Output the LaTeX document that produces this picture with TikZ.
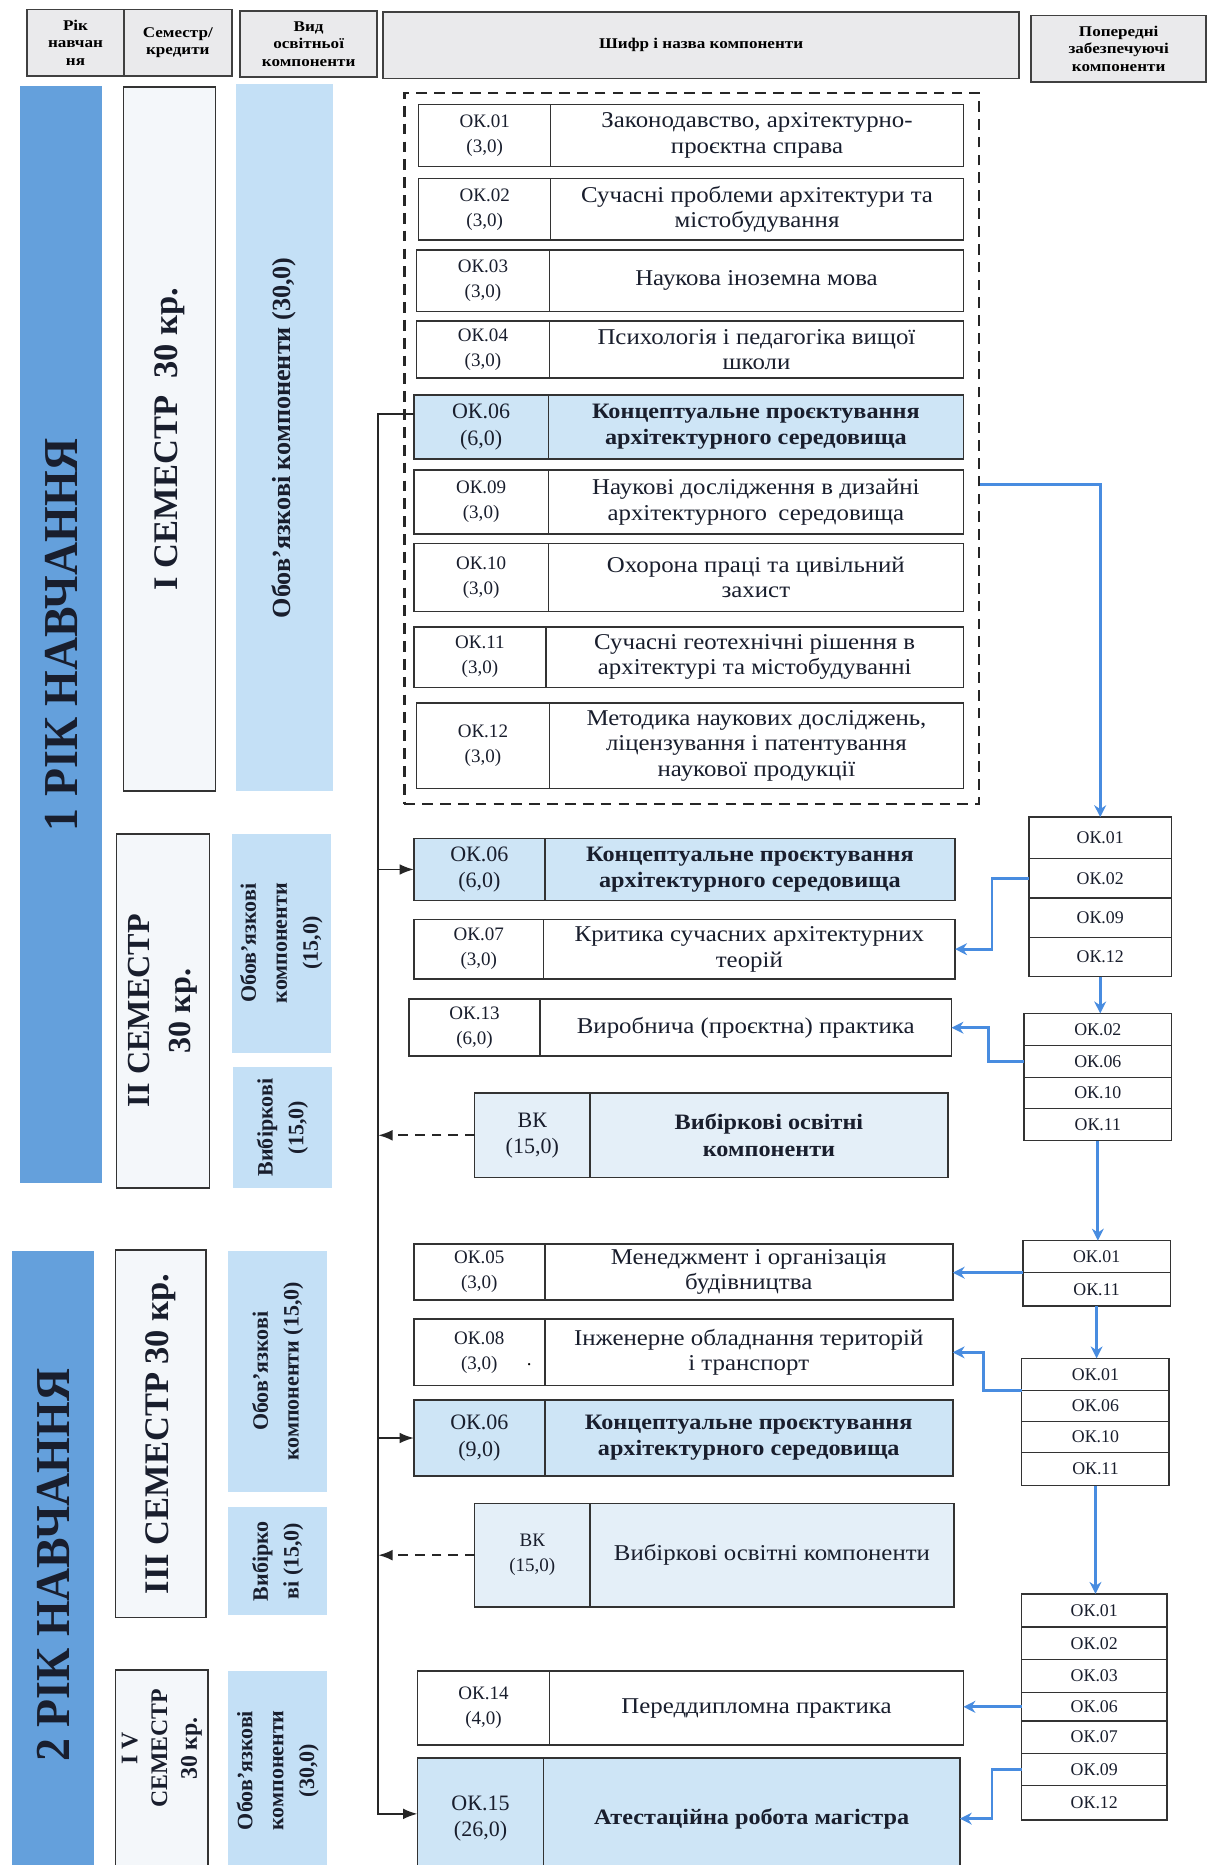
\documentclass[tikz,border=0pt]{standalone}
\usepackage{fontspec}
\setmainfont{Liberation Serif}
\newfontfamily\tfont[FakeStretch=1.1]{Liberation Serif}
\newfontfamily\hfont[FakeStretch=1.15]{Liberation Serif}
\newfontfamily\cfont[FakeStretch=0.94]{Liberation Serif}
\usetikzlibrary{arrows.meta}
\definecolor{yearblue}{RGB}{100,160,220}
\definecolor{kindblue}{RGB}{196,224,246}
\definecolor{hlblue}{RGB}{206,229,246}
\definecolor{vkblue}{RGB}{228,239,248}
\definecolor{semfill}{RGB}{244,247,250}
\definecolor{hdrgray}{RGB}{234,234,236}
\definecolor{arrblue}{RGB}{72,140,224}
\definecolor{txtdark}{RGB}{25,30,45}
\newcommand\codefont{\fontsize{16}{21}\selectfont}
\newcommand\bigcodefont{\fontsize{18.5}{22}\selectfont}
\newcommand\titlefont{\tfont\fontsize{19}{21.5}\selectfont}
\newcommand\hltitlefont{\tfont\bfseries\fontsize{18.5}{22}\selectfont}
\newcommand\comp[9]{%
  \node[#7code, minimum width={#3-#2}, minimum height={#6-#5}] (#1c) at ({(#2+#3)/2},{(#5+#6)/2}) {#8};
  \node[#7title, minimum width={#4-#3}, minimum height={#6-#5}] (#1) at ({(#3+#4)/2},{(#5+#6)/2}) {#9};}
\newcommand\scell[6]{\node[stk, minimum width={#3-#2}, minimum height={#5-#4}] (#1) at ({(#2+#3)/2},{(#4+#5)/2}) {#6};}
\newcommand\rotbox[7]{\node[#6, rotate=90, minimum width={#5-#4}, minimum height={#3-#2}] (#1) at ({(#2+#3)/2},{(#4+#5)/2}) {#7};}
\tikzset{
  cellbase/.style={draw=black!80, line width=1.3pt, inner sep=0pt, outer sep=0pt, align=center, text=txtdark},
  plaincode/.style={cellbase, fill=white, font=\codefont},
  plaintitle/.style={cellbase, fill=white, font=\titlefont},
  hlcode/.style={cellbase, fill=hlblue, font=\bigcodefont},
  hltitle/.style={cellbase, fill=hlblue, font=\hltitlefont},
  vkcode/.style={cellbase, fill=vkblue, font=\codefont},
  vktitle/.style={cellbase, fill=vkblue, font=\titlefont},
  vkbcode/.style={cellbase, fill=vkblue, font=\bigcodefont},
  vkbtitle/.style={cellbase, fill=vkblue, font=\hltitlefont},
  stk/.style={draw=black!80, line width=1.2pt, fill=white, inner sep=0pt, outer sep=0pt, font=\fontsize{15}{18}\selectfont, text=txtdark},
  hdr/.style={draw=black!75, line width=1.5pt, fill=hdrgray, inner sep=0pt, outer sep=0pt, align=center, font=\hfont\bfseries\fontsize{12.5}{14.5}\selectfont},
  yearbar/.style={fill=yearblue, inner sep=0pt, align=center, text=txtdark, font=\cfont\bfseries\fontsize{41}{44}\selectfont},
  sembox/.style={draw=black!80, line width=1.3pt, fill=semfill, inner sep=0pt, align=center, text=txtdark, font=\bfseries\fontsize{29}{34}\selectfont},
  kindbox/.style={fill=kindblue, inner sep=0pt, align=center, text=txtdark, font=\bfseries\fontsize{18.5}{26}\selectfont},
  dashbox/.style={draw=black!85, line width=2pt, dash pattern=on 9pt off 6pt, inner sep=0pt},
  barrow/.style={draw=arrblue, line width=2.4pt, -{Stealth[length=10pt, width=10pt]}},
  blk/.style={draw=black!85, line width=1.6pt, -{Latex[length=12pt, width=9pt]}},
  dblk/.style={draw=black!85, line width=1.6pt, dash pattern=on 8pt off 6pt, -{Latex[length=12pt, width=9pt]}},
}
\begin{document}
\begin{tikzpicture}[x=1pt,y=-1pt]
\useasboundingbox (0,0) rectangle (1015,1568);
\clip (0,0) rectangle (1015,1568);
\fill[white] (0,0) rectangle (1015,1568);
% header
\node[hdr, minimum width=81, minimum height=56] (h1) at (63.5,36) {Рік\\навчан\\ня};
\node[hdr, minimum width=91, minimum height=56] (h2) at (149.5,36) {Семестр/\\кредити};
\node[hdr, minimum width=115, minimum height=56] (h3) at (259.5,37) {Вид\\освітньої\\компоненти};
\node[hdr, minimum width=535, minimum height=56] (h4) at (589.5,38) {Шифр і назва компоненти};
\node[hdr, minimum width=147, minimum height=56] (h5) at (940.5,41) {Попередні\\забезпечуючі\\компоненти};
% left columns
\rotbox{y1}{17}{86}{72}{995}{yearbar}{1 РІК НАВЧАННЯ}
\rotbox{y2}{10}{79}{1052}{1580}{yearbar}{2 РІК НАВЧАННЯ}
\rotbox{sm1}{104}{181}{73}{665}{sembox}{І СЕМЕСТР\enspace 30 кр.}
\rotbox{sm2}{98}{176}{701}{999}{sembox, font=\bfseries\fontsize{27}{34}\selectfont}{ІІ СЕМЕСТР\\30 кр.}
\rotbox{sm3}{97}{173}{1051}{1360}{sembox}{ІІІ СЕМЕСТР 30 кр.}
\rotbox{sm4}{97}{175}{1404}{1590}{sembox}{}
\node[rotate=90, align=center, text=txtdark, font=\bfseries\fontsize{20}{25}\selectfont] (sm4t) at (136,1470) {І V\\СЕМЕСТР\\30 кр.};
\rotbox{k1}{198}{280}{71}{665}{kindbox, font=\bfseries\fontsize{22}{26}\selectfont}{Обов’язкові компоненти (30,0)}
\rotbox{k2}{195}{278}{701}{885}{kindbox}{Обов’язкові\\компоненти\\(15,0)}
\rotbox{k3}{196}{279}{897}{999}{kindbox}{Вибіркові\\(15,0)}
\rotbox{k4}{192}{275}{1052}{1254}{kindbox}{Обов’язкові\\компоненти (15,0)}
\rotbox{k5}{192}{275}{1267}{1358}{kindbox}{Вибірко\\ві (15,0)}
\rotbox{k6}{192}{275}{1405}{1572}{kindbox}{Обов’язкові\\компоненти\\(30,0)}
% dashed frame
\node[dashbox, minimum width=483, minimum height=598] (dbox) at (581.5,377) {};
% semester I
\comp{a1}{352}{463}{810}{88}{140}{plain}{ОК.01\\(3,0)}{Законодавство, архітектурно-\\проєктна справа}
\comp{a2}{352}{463}{810}{150}{202}{plain}{ОК.02\\(3,0)}{Сучасні проблеми архітектури та\\містобудування}
\comp{a3}{350}{462}{810}{210}{262}{plain}{ОК.03\\(3,0)}{Наукова іноземна мова}
\comp{a4}{350}{462}{810}{270}{318}{plain}{ОК.04\\(3,0)}{Психологія і педагогіка вищої\\школи}
\comp{a5}{348}{461}{810}{332}{386}{hl}{ОК.06\\(6,0)}{Концептуальне проєктування\\архітектурного середовища}
\comp{a6}{348}{461}{810}{395}{449}{plain}{ОК.09\\(3,0)}{Наукові дослідження в дизайні\\архітектурного\enspace середовища}
\comp{a7}{348}{461}{810}{457}{514}{plain}{ОК.10\\(3,0)}{Охорона праці та цивільний\\захист}
\comp{a8}{348}{459}{810}{527}{578}{plain}{ОК.11\\(3,0)}{Сучасні геотехнічні рішення в\\архітектурі та містобудуванні}
\comp{a9}{350}{462}{810}{591}{663}{plain}{ОК.12\\(3,0)}{Методика наукових досліджень,\\ліцензування і патентування\\наукової продукції}
% semester II
\comp{b1}{348}{458}{803}{705}{757}{hl}{ОК.06\\(6,0)}{Концептуальне проєктування\\архітектурного середовища}
\comp{b2}{348}{457}{803}{773}{823}{plain}{ОК.07\\(3,0)}{Критика сучасних архітектурних\\теорій}
\comp{b3}{344}{454}{800}{840}{888}{plain}{ОК.13\\(6,0)}{Виробнича (проєктна) практика}
\comp{b4}{399}{496}{797}{919}{990}{vkb}{ВК\\(15,0)}{Вибіркові освітні\\компоненти}
% semester III
\comp{c1}{348}{458}{801}{1046}{1093}{plain}{ОК.05\\(3,0)}{Менеджмент і організація\\будівництва}
\comp{c2}{348}{458}{801}{1109}{1165}{plain}{ОК.08\\(3,0)}{Інженерне обладнання територій\\і транспорт}
\node[font=\codefont] (dot) at (445,1147) {.};
\comp{c3}{348}{458}{801}{1177}{1241}{hl}{ОК.06\\(9,0)}{Концептуальне проєктування\\архітектурного середовища}
\comp{c4}{399}{496}{802}{1264}{1351}{vk}{ВК\\(15,0)}{Вибіркові освітні компоненти}
% semester IV
\comp{d1}{351}{462}{810}{1405}{1467}{plain}{ОК.14\\(4,0)}{Переддипломна практика}
\comp{d2}{351}{457}{807}{1478}{1580}{hl}{ОК.15\\(26,0)}{Атестаційна робота магістра}
% prerequisite stacks
\scell{s1r1}{865}{985}{687}{722}{ОК.01}
\scell{s1r2}{865}{985}{722}{755}{ОК.02}
\scell{s1r3}{865}{985}{755}{788}{ОК.09}
\scell{s1r4}{865}{985}{788}{821}{ОК.12}
\scell{s2r1}{861}{985}{852}{879}{ОК.02}
\scell{s2r2}{861}{985}{879}{906}{ОК.06}
\scell{s2r3}{861}{985}{906}{932}{ОК.10}
\scell{s2r4}{861}{985}{932}{959}{ОК.11}
\scell{s3r1}{860}{984}{1043}{1070}{ОК.01}
\scell{s3r2}{860}{984}{1070}{1098}{ОК.11}
\scell{s4r1}{859}{983}{1142}{1169}{ОК.01}
\scell{s4r2}{859}{983}{1169}{1195}{ОК.06}
\scell{s4r3}{859}{983}{1195}{1221}{ОК.10}
\scell{s4r4}{859}{983}{1221}{1249}{ОК.11}
\scell{s5r1}{859}{981}{1340}{1368}{ОК.01}
\scell{s5r2}{859}{981}{1368}{1395}{ОК.02}
\scell{s5r3}{859}{981}{1395}{1423}{ОК.03}
\scell{s5r4}{859}{981}{1423}{1447}{ОК.06}
\scell{s5r5}{859}{981}{1447}{1474}{ОК.07}
\scell{s5r6}{859}{981}{1474}{1501}{ОК.09}
\scell{s5r7}{859}{981}{1501}{1530}{ОК.12}
% blue connectors
\draw[barrow] ([yshift=15pt]a6.east -| dbox.east) -| (s1r1.north);
\draw[barrow] (s1r2.west) -- ++(-31,0) |- (b2.east);
\draw[barrow] (s1r4.south) -- (s1r4.south |- s2r1.north);
\draw[barrow] (s2r2.west) -- ++(-30,0) |- (b3.east);
\draw[barrow] (s2r4.south) -- (s2r4.south |- s3r1.north);
\draw[barrow] (s3r1.south west) -- (s3r1.south west -| c1.east);
\draw[barrow] (s3r2.south) -- (s3r2.south |- s4r1.north);
\draw[barrow] (s4r1.south west) -- ++(-32,0) |- (c2.east);
\draw[barrow] (s4r4.south) -- (s4r4.south |- s5r1.north);
\draw[barrow] (s5r4.west) -- (s5r4.west -| d1.east);
\draw[barrow] (s5r6.west) -- ++(-25,0) |- (d2.east);
% black spine
\coordinate (sp) at (318,0);
\draw[blk] ([yshift=11pt]a5c.west) -- ([yshift=11pt]a5c.west -| sp) |- ([yshift=4pt]d2c.west);
\draw[blk] (b1c.west -| sp) -- (b1c.west);
\draw[blk] (c3c.west -| sp) -- (c3c.west);
\draw[dblk] (b4c.west) -- (b4c.west -| sp);
\draw[dblk] (c4c.west) -- (c4c.west -| sp);
\end{tikzpicture}
\end{document}
